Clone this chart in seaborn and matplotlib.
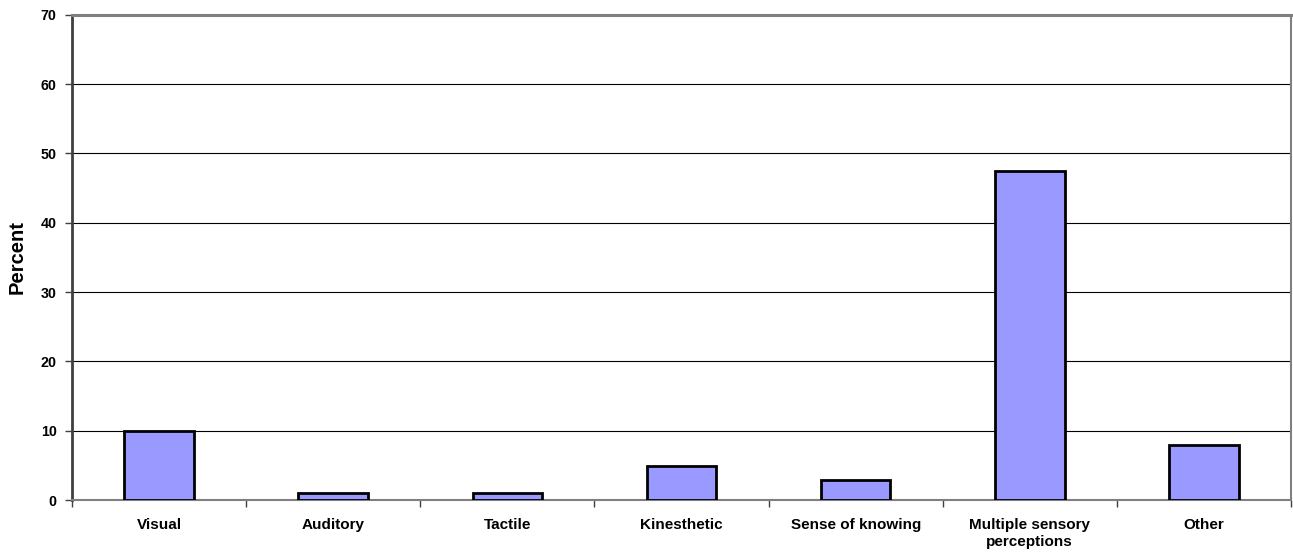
import matplotlib
matplotlib.use("Agg")
import matplotlib.pyplot as plt
import seaborn as sns
import pandas as pd

categories = ["Visual", "Auditory", "Tactile", "Kinesthetic", "Sense of knowing",
              "Multiple sensory\nperceptions", "Other"]
percent = [9.9, 1.0, 1.0, 4.9, 2.9, 47.5, 7.9]
y_ticks = [0, 10, 20, 30, 40, 50, 60, 70]

sns.set_theme(style="white")
plt.rcParams["font.family"] = ["Liberation Sans", "DejaVu Sans"]
plt.rcParams["text.color"] = "black"
plt.rcParams["xtick.color"] = "black"
plt.rcParams["ytick.color"] = "black"
plt.rcParams["axes.labelcolor"] = "black"

df = pd.DataFrame({"category": categories, "percent": percent})

fig = plt.figure(figsize=(12.93, 5.58), dpi=100)
ax = fig.add_axes([72 / 1293, 58 / 558, (1291 - 72) / 1293, (500 - 14.7) / 558])

sns.barplot(data=df, x="category", y="percent", color="#9999FF", saturation=1,
            edgecolor="black", linewidth=2, width=0.4, ax=ax, zorder=3)

ax.set_ylim(0, 70)
ax.set_xlim(-0.5, len(categories) - 0.5)
ax.set_yticks(y_ticks)
ax.set_yticklabels([str(t) for t in y_ticks], fontweight="bold", fontsize=10.3)
ax.set_xticks(range(len(categories)))
ax.set_xticklabels(categories, fontweight="bold", fontsize=11, linespacing=1.25)
ax.set_xticks([i - 0.5 for i in range(len(categories) + 1)], minor=True)
ax.tick_params(axis="x", which="major", length=0, pad=13)
ax.tick_params(axis="x", which="minor", length=5, width=1, color="#404040", bottom=True)
ax.tick_params(axis="y", which="major", length=5, width=1, color="#404040", left=True, pad=6)

ax.yaxis.grid(True, color="black", linewidth=0.8, zorder=0)
ax.set_axisbelow(True)

ax.set_xlabel("")
ax.set_ylabel("Percent", fontweight="bold", fontsize=14.5)
ax.yaxis.set_label_coords(-0.037, 0.5)

for side, (col, lw) in {"left": ("#404040", 2), "top": ("#808080", 2.2),
                        "right": ("#808080", 1.5), "bottom": ("#808080", 1.5)}.items():
    ax.spines[side].set_visible(True)
    ax.spines[side].set_color(col)
    ax.spines[side].set_linewidth(lw)

fig.savefig("out.png", dpi=100)
